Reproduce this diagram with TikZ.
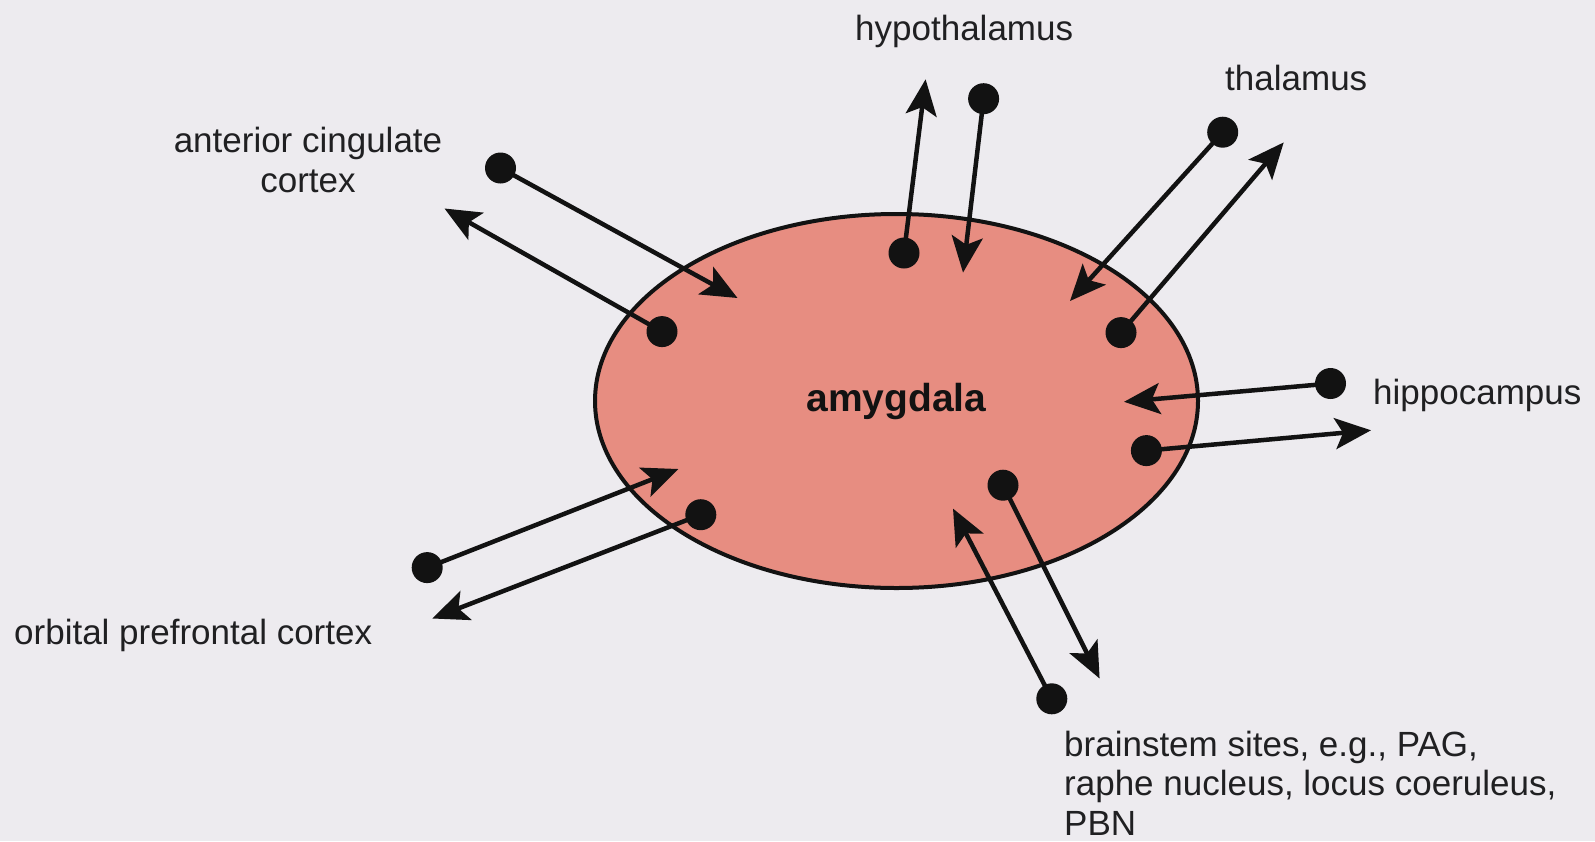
\documentclass[tikz,border=0pt]{standalone}
\usepackage{fontspec}
\setmainfont{Liberation Sans}
\usetikzlibrary{arrows.meta,shapes.geometric}
\definecolor{bg}{RGB}{237,235,239}
\definecolor{amyfill}{RGB}{231,141,129}
\definecolor{ink}{RGB}{18,18,18}
\definecolor{txt}{RGB}{32,32,34}
\begin{document}
\begin{tikzpicture}[x=1pt,y=-1pt,
  dot/.style={circle,fill=ink,inner sep=0pt,minimum size=31pt},
  conn/.style={draw=ink,line width=4.5pt,-{Stealth[length=36pt,width=31pt,inset=8pt]}},
  lbl/.style={text=txt,font=\fontsize{35}{39.5}\selectfont,inner sep=0pt},
]
\fill[bg] (0,0) rectangle (1595,841);
\useasboundingbox (0,0) rectangle (1595,841);

\node[ellipse,draw=ink,line width=4pt,fill=amyfill,minimum width=603pt,minimum height=374pt,inner sep=0pt,font=\bfseries\fontsize{39}{44}\selectfont,text=ink] (amy) at (896.5,401) {amygdala};

% anterior cingulate
\node[dot] (d1) at (500.5,168) {};
\coordinate (t1) at (737.5,298);
\node[dot] (d2) at (662,331.6) {};
\coordinate (t2) at (444.5,208.5);
% hypothalamus
\node[dot] (d3) at (904,253) {};
\coordinate (t3) at (925.6,79.3);
\node[dot] (d4) at (983.6,98.7) {};
\coordinate (t4) at (963,272.6);
% thalamus
\node[dot] (d5) at (1222.7,132.2) {};
\coordinate (t5) at (1070,301);
\node[dot] (d6) at (1121,332.6) {};
\coordinate (t6) at (1283.7,142.4);
% hippocampus
\node[dot] (d7) at (1330.5,383.5) {};
\coordinate (t7) at (1124,401.8);
\node[dot] (d8) at (1146.4,450.6) {};
\coordinate (t8) at (1371,430.3);
% brainstem
\node[dot] (d9) at (1003,485.2) {};
\coordinate (t9) at (1099.6,678.5);
\node[dot] (d10) at (1051.8,698.8) {};
\coordinate (t10) at (953,508.6);
% orbital prefrontal
\node[dot] (d11) at (427.2,567.6) {};
\coordinate (t11) at (678.5,469);
\node[dot] (d12) at (700.8,514.7) {};
\coordinate (t12) at (432.3,618.5);

\foreach \i in {1,...,12}{\draw[conn] (d\i.center) -- (t\i);}

\node[lbl,anchor=base west] (hypo) at (855,40) {hypothalamus};
\node[lbl,anchor=base west] (thal) at (1225,90) {thalamus};
\node[lbl,align=center,anchor=base] (acc) at (308,192) {anterior cingulate\\cortex};
\node[lbl,anchor=base west] (hip) at (1373,404) {hippocampus};
\node[lbl,anchor=base west] (opc) at (14,644) {orbital prefrontal cortex};
\node[lbl,align=left,anchor=base west] (bst) at (1064,835) {brainstem sites, e.g., PAG,\\raphe nucleus, locus coeruleus,\\PBN};
\end{tikzpicture}
\end{document}
